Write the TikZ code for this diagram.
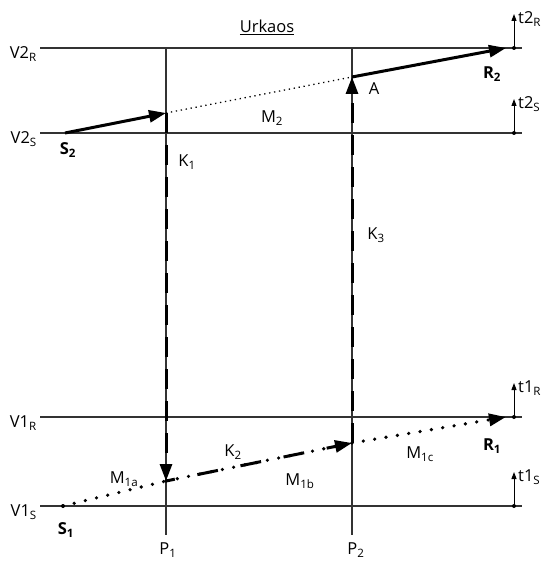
\documentclass[tikz,border=0pt]{standalone}
\usepackage{fontspec}
\setmainfont{Open Sans}
\usetikzlibrary{arrows.meta,calc}
\begin{document}
\begin{tikzpicture}[x=1pt,y=-1pt,
  thinline/.style={line width=1.1pt,draw=black!80},
  thickarrow/.style={line width=3pt,-{Triangle[length=17pt,width=12pt]}},
  kdash/.style={line width=3pt,dash pattern=on 20pt off 12pt,-{Triangle[length=17pt,width=12pt]}},
  bigdots/.style={line width=3.6pt,line cap=round,dash pattern=on 0pt off 11.5pt},
  finedots/.style={line width=1.3pt,dash pattern=on 1.3pt off 3.7pt},
  tick/.style={line width=1pt,-{Triangle[length=7pt,width=5pt]}},
  lbl/.style={font=\fontsize{16.5}{18}\selectfont,inner sep=0pt},
  blbl/.style={font=\fontsize{16.5}{18}\selectfont\bfseries,inner sep=0pt}
]
\useasboundingbox (0,0) rectangle (544,561);
% horizontal lines
\coordinate (v2rL) at (40,48);  \coordinate (v2rR) at (522,48);
\coordinate (v2sL) at (40,133); \coordinate (v2sR) at (522,133);
\coordinate (v1rL) at (40,417); \coordinate (v1rR) at (522,417);
\coordinate (v1sL) at (40,506); \coordinate (v1sR) at (522,506);
\draw[thinline] (v2rL) -- (v2rR);
\draw[thinline] (v2sL) -- (v2sR);
\draw[thinline] (v1rL) -- (v1rR);
\draw[thinline] (v1sL) -- (v1sR);
% vertical lines
\coordinate (p1t) at (166,48); \coordinate (p1b) at (166,535);
\coordinate (p2t) at (352,48); \coordinate (p2b) at (352,535);
\draw[thinline] (p1t) -- (p1b);
\draw[thinline] (p2t) -- (p2b);
% key points
\coordinate (S2) at (65,133);
\coordinate (X) at (166,113);
\coordinate (A) at (352,77);
\coordinate (R2) at (506,48);
\coordinate (S1) at (63,506);
\coordinate (B) at (166,481);
\coordinate (C) at (352,443);
\coordinate (R1) at (506,417);
% top arrows
\draw[thickarrow] (S2) -- (X);
\draw[finedots] (X) -- (A);
\draw[thickarrow] (A) -- (R2);
% vertical dashed
\draw[kdash] (X) -- (B);
\draw[kdash] (C) -- (A);
% bottom
\fill (S1) circle (2pt);
\draw[bigdots] (S1) -- (B);
\draw[bigdots] (B) -- (C);
\draw[line width=3pt,dash pattern=on 21pt off 23pt,dash phase=-32pt,-{Triangle[length=17pt,width=12pt]}] (B) -- (C);
\draw[bigdots,-{Triangle[length=17pt,width=12pt]}] (C) -- (R1);
% ticks on right
\coordinate (t2Rb) at (514,48);  \coordinate (t2Rt) at (514,14);
\coordinate (t2Sb) at (514,133); \coordinate (t2St) at (514,99);
\coordinate (t1Rb) at (514,417); \coordinate (t1Rt) at (514,383);
\coordinate (t1Sb) at (514,506); \coordinate (t1St) at (514,472);
\foreach \a/\b in {t2Rb/t2Rt,t2Sb/t2St,t1Rb/t1Rt,t1Sb/t1St}{
  \draw[tick] (\a) -- (\b);
  \fill (\a) circle (2pt);
}
% labels
\node[lbl,anchor=east] (lV2R) at (37,54) {V2\textsubscript{R}};
\node[lbl,anchor=east] (lV2S) at (37,139) {V2\textsubscript{S}};
\node[lbl,anchor=east] (lV1R) at (37,423) {V1\textsubscript{R}};
\node[lbl,anchor=east] (lV1S) at (37,512) {V1\textsubscript{S}};
\node[lbl,anchor=west] (lt2R) at (518,19) {t2\textsubscript{R}};
\node[lbl,anchor=west] (lt2S) at (518,104) {t2\textsubscript{S}};
\node[lbl,anchor=west] (lt1R) at (518,388) {t1\textsubscript{R}};
\node[lbl,anchor=west] (lt1S) at (518,477) {t1\textsubscript{S}};
\node[lbl] (lU) at (267,27) {\underline{Urkaos}};
\node[lbl] (lM2) at (272,118) {M\textsubscript{2}};
\node[lbl] (lA) at (374,89) {A};
\node[blbl] (lR2) at (492,74) {R\textsubscript{2}};
\node[blbl] (lS2) at (68,150) {S\textsubscript{2}};
\node[lbl] (lK1) at (187,162) {K\textsubscript{1}};
\node[lbl] (lK3) at (376,235) {K\textsubscript{3}};
\node[lbl] (lK2) at (233,452) {K\textsubscript{2}};
\node[lbl] (lM1a) at (124,479) {M\textsubscript{1a}};
\node[lbl] (lM1b) at (300,481) {M\textsubscript{1b}};
\node[lbl] (lM1c) at (420,454) {M\textsubscript{1c}};
\node[blbl] (lR1) at (492,446) {R\textsubscript{1}};
\node[blbl] (lS1) at (66,530) {S\textsubscript{1}};
\node[lbl] (lP1) at (168,550) {P\textsubscript{1}};
\node[lbl] (lP2) at (356,550) {P\textsubscript{2}};
\end{tikzpicture}
\end{document}
